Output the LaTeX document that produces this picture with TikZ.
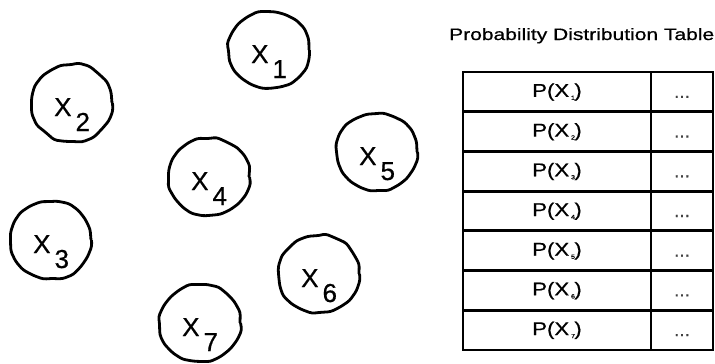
\documentclass[tikz,border=0pt]{standalone}
\usepackage{fontspec}
\setmainfont[FakeBold=0.6]{Liberation Sans}
\usetikzlibrary{shapes.geometric,decorations.pathmorphing}
\begin{document}
\pgfmathsetseed{7}
\begin{tikzpicture}[x=1pt,y=-1pt,
  blob/.style={ellipse,minimum width=80pt,minimum height=76pt,inner sep=0pt,
    line width=2.8pt,
    decoration={random steps,segment length=11pt,amplitude=1pt},
    postaction={draw,line width=2.8pt,decorate,rounded corners=3pt}},
  lab/.style={anchor=base west,inner sep=0pt,font=\fontsize{26}{26}\selectfont},
  cell/.style={draw,line width=2.8pt,minimum height=39.7pt,inner sep=0pt},
  pcell/.style={cell,minimum width=188pt},
  dcell/.style={cell,minimum width=62pt},
  ptxt/.style={anchor=base,inner sep=0pt,font=\fontsize{18.5}{19}\selectfont},
  dtxt/.style={anchor=base,inner sep=0pt,text=black!75,font=\fontsize{19}{20}\selectfont},
  title/.style={anchor=base west,inner sep=0pt,font=\fontsize{16.5}{17}\selectfont}
]
\useasboundingbox (0,0) rectangle (715,364);
\fill[white] (0,0) rectangle (715,364);

\foreach \n/\cx/\cy in {1/269/50, 2/72/103, 3/51/240, 4/209/177, 5/377/152, 6/319/274, 7/200/323}{
  \node[blob] (x\n) at (\cx,\cy) {};
  \node[lab] (l\n) at ([shift={(-18,13)}]x\n.center) {X\hspace{4pt}\raisebox{-15pt}{\n}};
}

\node[title] (title) at (449,40) {\resizebox{265pt}{\height}{Probability Distribution Table}};

\foreach \i in {1,...,7}{
  \pgfmathsetmacro{\ry}{72+(\i-0.5)*39.714}
  \node[pcell] (p\i) at (557,\ry) {};
  \node[dcell] (d\i) at (682,\ry) {};
  \node[ptxt] (pt\i) at ([yshift=-5pt]p\i.center) {\scalebox{1.2}[1]{P(X\hspace{1.5pt}\raisebox{-3pt}{\fontsize{6}{6}\selectfont\i}\hspace{-0.5pt})}};
  \node[dtxt] (dt\i) at ([yshift=-6pt]d\i.center) {...};
}
\end{tikzpicture}
\end{document}
